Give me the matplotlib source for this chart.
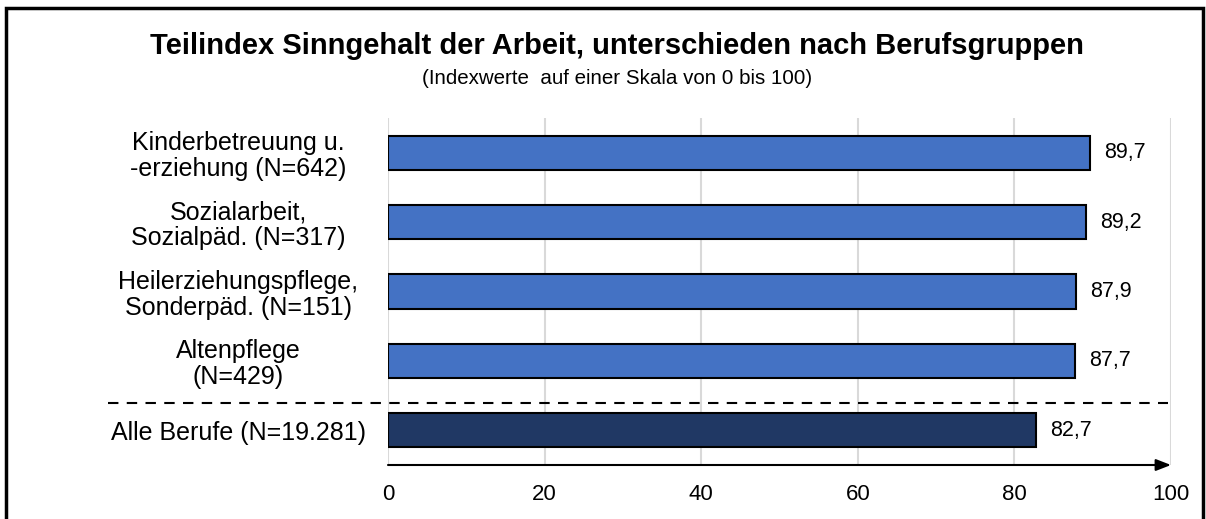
import matplotlib
matplotlib.use("Agg")
import matplotlib.pyplot as plt
from matplotlib.patches import Rectangle
import matplotlib.transforms as mtransforms

plt.rcParams['font.family'] = ['Liberation Sans', 'DejaVu Sans']

# data
labels = ["Kinderbetreuung u.\n-erziehung (N=642)",
          "Sozialarbeit,\nSozialpäd. (N=317)",
          "Heilerziehungspflege,\nSonderpäd. (N=151)",
          "Altenpflege\n(N=429)",
          "Alle Berufe (N=19.281)"]
values = [89.7, 89.2, 87.9, 87.7, 82.7]
bar_colors = ["#4472C4", "#4472C4", "#4472C4", "#4472C4", "#203864"]
xticks = [0, 20, 40, 60, 80, 100]

fig = plt.figure(figsize=(12.06, 5.19), dpi=100)
ax = fig.add_axes([388 / 1206, 1 - 465 / 519, (1171 - 388) / 1206, (465 - 118) / 519])

ypos = list(range(len(values)))
ax.barh(ypos, values, height=0.49, color=bar_colors, edgecolor="black", linewidth=1.5, zorder=3)

for y, v in zip(ypos, values):
    ax.text(v + 1.8, y, f"{v:.1f}".replace(".", ","), va="center", ha="left", fontsize=15.5)

ax.set_xlim(0, 100)
ax.set_ylim(4.5, -0.5)
ax.set_xticks(xticks)
ax.set_xticklabels([str(t) for t in xticks], fontsize=16)
ax.set_yticks(ypos)
ax.set_yticklabels(labels, fontsize=18, linespacing=1.1)
ax.tick_params(axis="y", length=0, pad=0)
ax.tick_params(axis="x", length=0, pad=14)
for lab in ax.get_yticklabels():
    lab.set_x(-0.191)
    lab.set_ha("center")
    lab.set_multialignment("center")

ax.grid(axis="x", color="#D9D9D9", linewidth=1.5, zorder=0)
for s in ["top", "right", "left", "bottom"]:
    ax.spines[s].set_visible(False)

# x-axis arrow
ax.annotate("", xy=(1.0, 0), xytext=(0, 0), xycoords="axes fraction",
            arrowprops=dict(arrowstyle="-|>,head_length=0.9,head_width=0.35",
                            color="black", lw=1.5, shrinkA=0, shrinkB=0))

# dashed separator across labels and plot
trans = mtransforms.blended_transform_factory(fig.transFigure, ax.transData)
ax.plot([108 / 1206, 1168 / 1206], [3.6, 3.6], transform=trans, color="black",
        linestyle=(0, (5, 4)), linewidth=1.5, clip_on=False, zorder=4)

fig.text(617 / 1206, 1 - 46 / 519, "Teilindex Sinngehalt der Arbeit, unterschieden nach Berufsgruppen",
         ha="center", va="center", fontsize=21, fontweight="bold")
fig.text(617 / 1206, 1 - 79 / 519, "(Indexwerte  auf einer Skala von 0 bis 100)",
         ha="center", va="center", fontsize=14.8)

# frame around figure (open at the bottom)
fig.patches.append(Rectangle((6 / 1206, -0.05), (1203 - 6) / 1206, 1.05 - 8 / 519,
                             transform=fig.transFigure, fill=False, edgecolor="black",
                             linewidth=2.5, zorder=10))

fig.savefig("out.png", dpi=100)
